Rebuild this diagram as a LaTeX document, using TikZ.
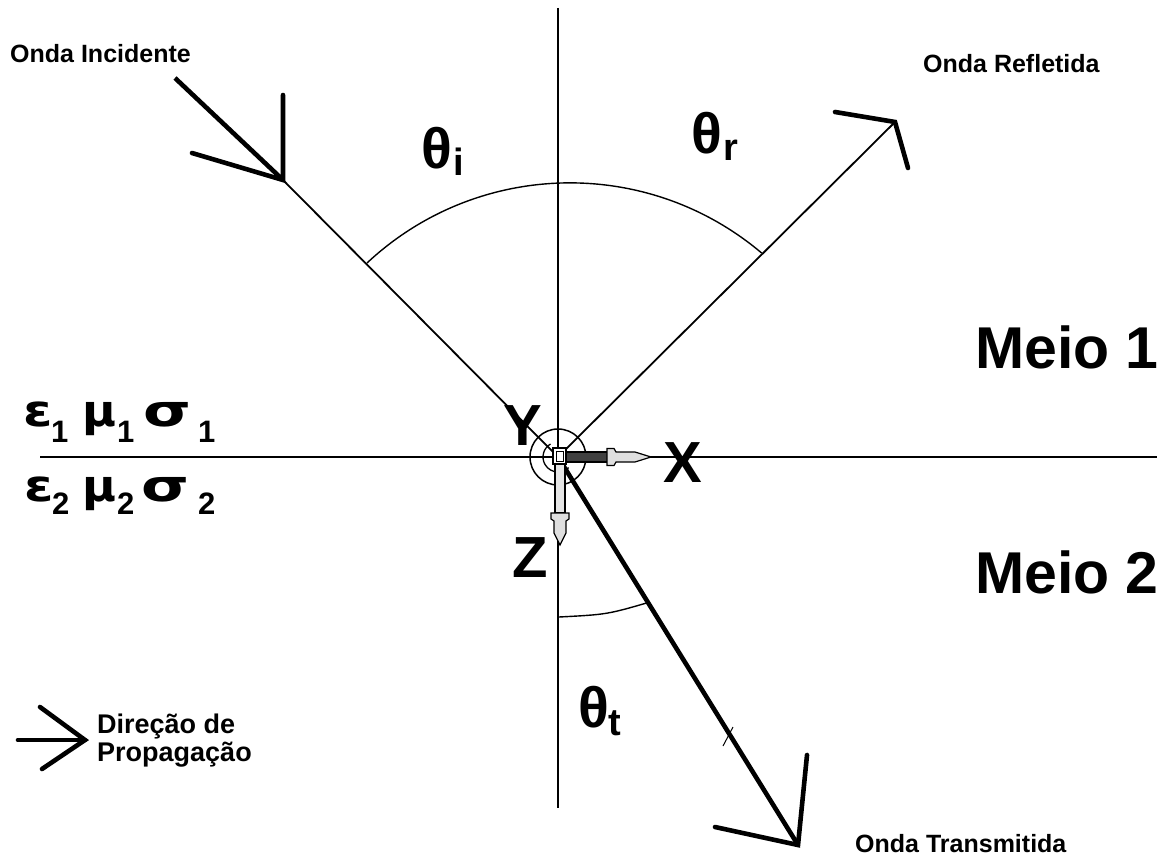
\documentclass[tikz,border=0pt]{standalone}
\usepackage{fontspec}
\setmainfont{Liberation Sans}
\newfontfamily\grk{DejaVu Sans}
\newcommand{\fsz}[1]{\fontsize{#1}{#1}\selectfont\bfseries}
\begin{document}
\begin{tikzpicture}[x=1pt,y=-1pt,
  lbl/.style={inner sep=0pt,anchor=base west},
  thinray/.style={line width=1.8pt},
  thickray/.style={line width=4.6pt},
  headlegs/.style={line width=4.6pt,line join=miter,line cap=round},
  axisline/.style={line width=2.6pt},
  anglearc/.style={line width=1.4pt}]
\useasboundingbox[fill=white] (0,0) rectangle (1174,856);

% coordinates
\coordinate (O) at (558,457);
\coordinate (vtop) at (558,8);
\coordinate (vbot) at (558,808);
\coordinate (hl) at (40,457);
\coordinate (hr) at (1157,457);
\coordinate (itail) at (175,78);
\coordinate (itip) at (283,180);
\coordinate (ileg1) at (192,153);
\coordinate (ileg2) at (283,95);
\coordinate (rtip) at (895,122);
\coordinate (rleg1) at (835,112);
\coordinate (rleg2) at (908,168);
\coordinate (ttip) at (798,845);
\coordinate (tleg1) at (715,827);
\coordinate (tleg2) at (807,755);
\coordinate (dtail) at (18,740);
\coordinate (dtip) at (85,740);
\coordinate (dleg1) at (40,707);
\coordinate (dleg2) at (42,769);
\coordinate (ai) at (367,263);
\coordinate (ta) at (559,617);
\coordinate (tb) at (650,602);

% axes
\draw[axisline] (vtop) -- (vbot);
\draw[axisline] (hl) -- (hr);

% incident wave
\draw[thickray] (itail) -- (itip);
\draw[headlegs] (ileg1) -- (itip) -- (ileg2);
\draw[thinray] (itip) -- (O);

% reflected wave
\draw[thinray] (O) -- (rtip);
\draw[headlegs] (rleg1) -- (rtip) -- (rleg2);

% transmitted wave
\draw[thickray] (O) -- (ttip);
\draw[headlegs] (tleg1) -- (ttip) -- (tleg2);
\draw[line width=1pt] (723,746) -- (733,727);

% angle arcs
\draw[anglearc] (ai) arc[start angle=-133.1, end angle=-49.8, radius=297];
\draw[anglearc] (ta) .. controls (607,614.5) .. (tb);

% legend arrow
\draw[headlegs] (dtail) -- (dtip);
\draw[headlegs] (dleg1) -- (dtip) -- (dleg2);

% origin symbol (Y out of the page)
\draw[line width=1.5pt] (O) circle[radius=28];
\draw[line width=1.3pt] (O) ++(240:15) arc[start angle=240, end angle=45, radius=15];
% X arrow
\draw[line width=1.2pt, fill=black!75] (566,452) rectangle (608,462);
\draw[line width=1.2pt, fill=gray!25]
  (607,448.5) -- (614,448.5) -- (616,452) -- (635,452) -- (651,457)
  -- (635,462) -- (616,462) -- (614,465.5) -- (607,465.5) -- cycle;
% Z arrow
\draw[line width=1.2pt, fill=gray!20] (555,464) rectangle (565,513);
\draw[line width=1.2pt, fill=gray!25]
  (551,513) -- (551,519) -- (554,521) -- (554,533) -- (560,545)
  -- (566,533) -- (566,521) -- (569,519) -- (569,513) -- cycle;
% small box at origin
\draw[line width=1.4pt, fill=white] (553,448) rectangle (566,464);
\draw[line width=0.8pt] (556,451) rectangle (563,461);

% labels
\node[lbl] (oi) at (10,63) {\fsz{25}Onda Incidente};
\node[lbl] (orf) at (923,73) {\fsz{25}Onda Refletida};
\node[lbl] (ot) at (855,852) {\fsz{25}Onda Transmitida};
\node[lbl] (d1) at (97,733) {\fsz{27}Direção de};
\node[lbl] (d2) at (97,761) {\fsz{27}Propagação};
\node[lbl] (m1) at (975,368) {\fsz{59}Meio 1};
\node[lbl] (m2) at (975,593) {\fsz{59}Meio 2};
\node[lbl] (xl) at (663,482) {\fsz{58}X};
\node[lbl] (yl) at (503,445) {\fsz{58}Y};
\node[lbl] (zl) at (512,577) {\fsz{58}Z};

\node[lbl] (thi) at (421,168) {\fsz{57}θ};
\node[lbl] (this) at (453,175) {\fsz{38}i};
\node[lbl] (thr) at (691,153) {\fsz{57}θ};
\node[lbl] (thrs) at (723,160) {\fsz{38}r};
\node[lbl] (tht) at (578,727) {\fsz{57}θ};
\node[lbl] (thts) at (608,735) {\fsz{38}t};

% material parameters, medium 1
\node[lbl] (e1) at (23,426) {\fsz{44}\grk\scalebox{1.2}[1]{ε}};
\node[lbl] (e1s) at (51,442) {\fsz{31}1};
\node[lbl] (u1) at (82,426) {\fsz{44}\grk\scalebox{1.05}[1]{μ}};
\node[lbl] (u1s) at (117,442) {\fsz{31}1};
\node[lbl] (s1) at (143,426) {\fsz{44}\grk\scalebox{1.4}[1]{σ}};
\node[lbl] (s1s) at (198,442) {\fsz{31}1};
% material parameters, medium 2
\node[lbl] (e2) at (24,501) {\fsz{44}\grk\scalebox{1.2}[1]{ε}};
\node[lbl] (e2s) at (52,514) {\fsz{31}2};
\node[lbl] (u2) at (82,501) {\fsz{44}\grk\scalebox{1.05}[1]{μ}};
\node[lbl] (u2s) at (117,514) {\fsz{31}2};
\node[lbl] (s2) at (141,501) {\fsz{44}\grk\scalebox{1.4}[1]{σ}};
\node[lbl] (s2s) at (198,514) {\fsz{31}2};
\end{tikzpicture}
\end{document}
